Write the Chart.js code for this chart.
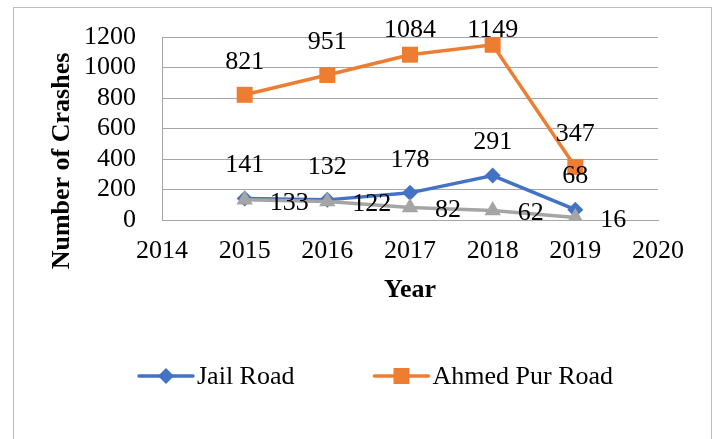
<!DOCTYPE html>
<html>
<head>
<meta charset="utf-8">
<script src="https://cdn.jsdelivr.net/npm/chart.js@4.4.1/dist/chart.umd.min.js"></script>
<style>
  html, body { margin: 0; padding: 0; background: #fff; }
  #wrap { width: 717px; height: 439px; position: relative; }
</style>
</head>
<body>
<div id="wrap"><canvas id="crashes"></canvas></div>
<script>
// --- data ---
const years = [2015, 2016, 2017, 2018, 2019];
const jailRoad = [141, 132, 178, 291, 68];
const ahmedPurRoad = [821, 951, 1084, 1149, 347];
const thirdRoad = [133, 122, 82, 62, 16];   // grey series, not in the legend
const xTicks = [2014, 2015, 2016, 2017, 2018, 2019, 2020];
const yTicks = [0, 200, 400, 600, 800, 1000, 1200];

const SERIF = '"Liberation Serif", "Times New Roman", serif';
const BLUE = '#4472C4';
const ORANGE = '#ED7D31';
const GREY = '#A5A5A5';

const pts = (vals) => vals.map((v, i) => ({ x: years[i], y: v }));

// data labels: 'above' (centered) or 'right' (left aligned)
const labelPlugin = {
  id: 'valueLabels',
  afterDatasetsDraw(chart) {
    const ctx = chart.ctx;
    ctx.save();
    ctx.font = '26px ' + SERIF;
    ctx.fillStyle = '#000';
    ctx.textBaseline = 'middle';
    chart.data.datasets.forEach((ds, di) => {
      const meta = chart.getDatasetMeta(di);
      meta.data.forEach((el, i) => {
        const txt = String(ds.data[i].y);
        if (ds.labelPos === 'right') {
          ctx.textAlign = 'left';
          ctx.fillText(txt, el.x + 25, el.y + 3);
        } else {
          ctx.textAlign = 'center';
          ctx.fillText(txt, el.x, Math.max(el.y - 33, 30));
        }
      });
    });
    ctx.restore();
  }
};

// frame, y title and the two-entry legend
const decorPlugin = {
  id: 'decor',
  beforeDraw(chart) {
    const ctx = chart.ctx;
    ctx.save();
    ctx.fillStyle = '#fff';
    ctx.fillRect(0, 0, chart.width, chart.height);
    ctx.strokeStyle = '#BFBFBF';
    ctx.lineWidth = 1;
    ctx.strokeRect(13.5, 7.5, 698, 500);
    ctx.restore();
  },
  afterDraw(chart) {
    const ctx = chart.ctx;
    ctx.save();
    // y axis title
    ctx.translate(62, 161);
    ctx.rotate(-Math.PI / 2);
    ctx.font = 'bold 26px ' + SERIF;
    ctx.fillStyle = '#000';
    ctx.textAlign = 'center';
    ctx.textBaseline = 'middle';
    ctx.fillText('Number of Crashes', 0, 0);
    ctx.restore();

    // legend
    ctx.save();
    ctx.font = '26px ' + SERIF;
    ctx.textBaseline = 'middle';
    ctx.textAlign = 'left';
    let x = 139;
    const y = 376;
    chart.data.datasets.forEach((ds) => {
      if (!ds.label) return;
      ctx.strokeStyle = ds.borderColor;
      ctx.lineWidth = 3.5;
      ctx.lineCap = 'round';
      ctx.beginPath();
      ctx.moveTo(x, y);
      ctx.lineTo(x + 54, y);
      ctx.stroke();
      ctx.fillStyle = ds.pointBackgroundColor;
      ctx.beginPath();
      if (ds.pointStyle === 'rectRot') {
        ctx.moveTo(x + 27, y - 8);
        ctx.lineTo(x + 35, y);
        ctx.lineTo(x + 27, y + 8);
        ctx.lineTo(x + 19, y);
      } else {
        ctx.rect(x + 19, y - 8, 16, 16);
      }
      ctx.closePath();
      ctx.fill();
      ctx.fillStyle = '#000';
      ctx.fillText(ds.label, x + 58, y + 1);
      x += 58 + ctx.measureText(ds.label).width + 80;
    });
    ctx.restore();
  }
};

new Chart(document.getElementById('crashes'), {
  type: 'line',
  data: {
    datasets: [
      {
        label: 'Jail Road', data: pts(jailRoad),
        borderColor: BLUE, backgroundColor: BLUE, pointBackgroundColor: BLUE,
        borderWidth: 3.5, pointStyle: 'rectRot', pointRadius: 8, pointBorderWidth: 0,
        labelPos: 'above', order: 1,
      },
      {
        label: 'Ahmed Pur Road', data: pts(ahmedPurRoad),
        borderColor: ORANGE, backgroundColor: ORANGE, pointBackgroundColor: ORANGE,
        borderWidth: 3.5, pointStyle: 'rect', pointRadius: 11.3, pointBorderWidth: 0,
        labelPos: 'above', order: 2,
      },
      {
        label: '', data: pts(thirdRoad),
        borderColor: GREY, backgroundColor: GREY, pointBackgroundColor: GREY,
        borderWidth: 3.5, pointStyle: 'triangle', pointRadius: 9.5, pointBorderWidth: 0,
        labelPos: 'right', order: 0,
      },
    ],
  },
  options: {
    responsive: true,
    maintainAspectRatio: false,
    animation: false,
    events: [],
    layout: { padding: { left: 0, top: 37, right: 59, bottom: 0 } },
    plugins: { legend: { display: false }, tooltip: { enabled: false } },
    scales: {
      x: {
        type: 'linear', min: xTicks[0], max: xTicks[xTicks.length - 1],
        afterBuildTicks: (s) => { s.ticks = xTicks.map(v => ({ value: v })); },
        afterFit: (s) => { s.height = 219; },
        grid: { display: false, drawTicks: false },
        border: { display: true, color: '#A6A6A6', width: 1 },
        ticks: { autoSkip: false, maxRotation: 0, padding: 16, color: '#000', font: { family: SERIF, size: 26 }, callback: v => String(v) },
        title: {
          display: true, text: 'Year', color: '#000',
          font: { family: SERIF, size: 26, weight: 'bold' },
          padding: { top: 0, bottom: 133 },
        },
      },
      y: {
        min: 0, max: 1200,
        afterBuildTicks: (s) => { s.ticks = yTicks.map(v => ({ value: v })); },
        afterFit: (s) => { s.width = 162; },
        grid: { color: '#A6A6A6', lineWidth: 1, drawTicks: true, tickLength: 21, tickColor: 'rgba(0,0,0,0)' },
        border: { display: true, color: '#A6A6A6', width: 1 },
        ticks: { autoSkip: false, padding: 5, color: '#000', font: { family: SERIF, size: 26 }, callback: v => String(v) },
      },
    },
  },
  plugins: [decorPlugin, labelPlugin],
});
</script>
</body>
</html>
